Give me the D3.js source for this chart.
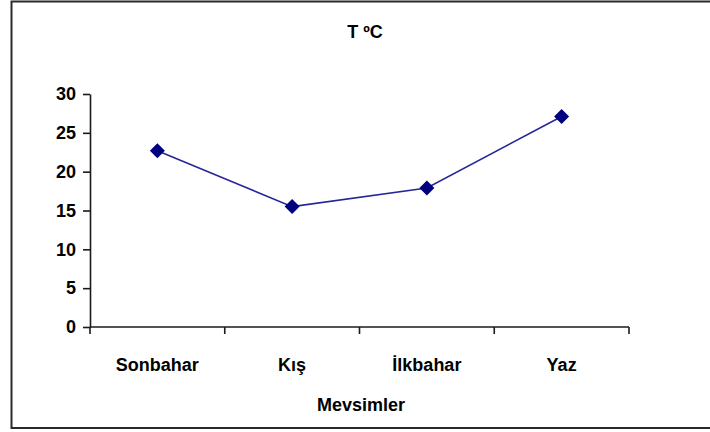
<!DOCTYPE html>
<html>
<head>
<meta charset="utf-8">
<script src="https://cdn.jsdelivr.net/npm/d3@7"></script>
<style>
  html, body { margin: 0; padding: 0; background: #fff; }
  svg { display: block; }
  text { font-family: "Liberation Sans", Arial, sans-serif; font-weight: bold; fill: #000; }
</style>
</head>
<body>
<svg id="chart" width="710" height="432"></svg>
<script>
// Seasonal mean temperature
const seasons = ["Sonbahar", "Kış", "İlkbahar", "Yaz"];
const temps = [22.7, 15.5, 17.9, 27.1];
const yTicks = [0, 5, 10, 15, 20, 25, 30];
const title = "T ºC";
const xTitle = "Mevsimler";

const svg = d3.select("#chart");
const plot = { left: 90, right: 629, top: 94, bottom: 327 };

// outer frame
svg.append("rect")
  .attr("x", 11.5).attr("y", 1.5)
  .attr("width", 720).attr("height", 426.5)
  .attr("fill", "none").attr("stroke", "#2a2a2a").attr("stroke-width", 2);

const x = d3.scaleBand().domain(seasons).range([plot.left, plot.right]).padding(0);
const y = d3.scaleLinear().domain([0, 30]).range([plot.bottom, plot.top]);

// y axis
const yAxis = svg.append("g")
  .attr("transform", `translate(${plot.left},0)`)
  .call(d3.axisLeft(y).tickValues(yTicks).tickSize(7).tickPadding(7).tickSizeOuter(0));
yAxis.select(".domain").attr("stroke", "#1a1a1a").attr("stroke-width", 1.6);
yAxis.selectAll(".tick line").attr("stroke", "#1a1a1a").attr("stroke-width", 1.6);
yAxis.selectAll(".tick text").style("font-size", "18px").attr("font-family", null).attr("fill", "#000");

// x axis: ticks on category boundaries
const xAxis = svg.append("g")
  .attr("transform", `translate(0,${plot.bottom})`);
xAxis.append("line")
  .attr("x1", plot.left).attr("x2", plot.right)
  .attr("stroke", "#1a1a1a").attr("stroke-width", 1.6);
const bounds = seasons.map(s => x(s)).concat([x(seasons[seasons.length - 1]) + x.bandwidth()]);
xAxis.selectAll("line.tick")
  .data(bounds)
  .join("line")
  .attr("class", "tick")
  .attr("x1", d => d).attr("x2", d => d)
  .attr("y1", 0).attr("y2", 7)
  .attr("stroke", "#1a1a1a").attr("stroke-width", 1.6);
xAxis.selectAll("text.cat")
  .data(seasons)
  .join("text")
  .attr("class", "cat")
  .attr("x", d => x(d) + x.bandwidth() / 2)
  .attr("y", 44)
  .attr("text-anchor", "middle")
  .style("font-size", "18px")
  .text(d => d);

// titles
svg.append("text")
  .attr("x", 365).attr("y", 38)
  .attr("text-anchor", "middle")
  .style("font-size", "18px")
  .text(title);
svg.append("text")
  .attr("x", 361).attr("y", 411)
  .attr("text-anchor", "middle")
  .style("font-size", "18px")
  .text(xTitle);

// series line
const pts = seasons.map((s, i) => [x(s) + x.bandwidth() / 2, y(temps[i])]);
svg.append("path")
  .attr("d", d3.line()(pts))
  .attr("fill", "none")
  .attr("stroke", "#26269a")
  .attr("stroke-width", 1.6);

// diamond markers
svg.selectAll("path.mark")
  .data(pts)
  .join("path")
  .attr("class", "mark")
  .attr("transform", d => `translate(${d[0]},${d[1]})`)
  .attr("d", "M0,-7.5L7.5,0L0,7.5L-7.5,0Z")
  .attr("fill", "#000080");
</script>
</body>
</html>
